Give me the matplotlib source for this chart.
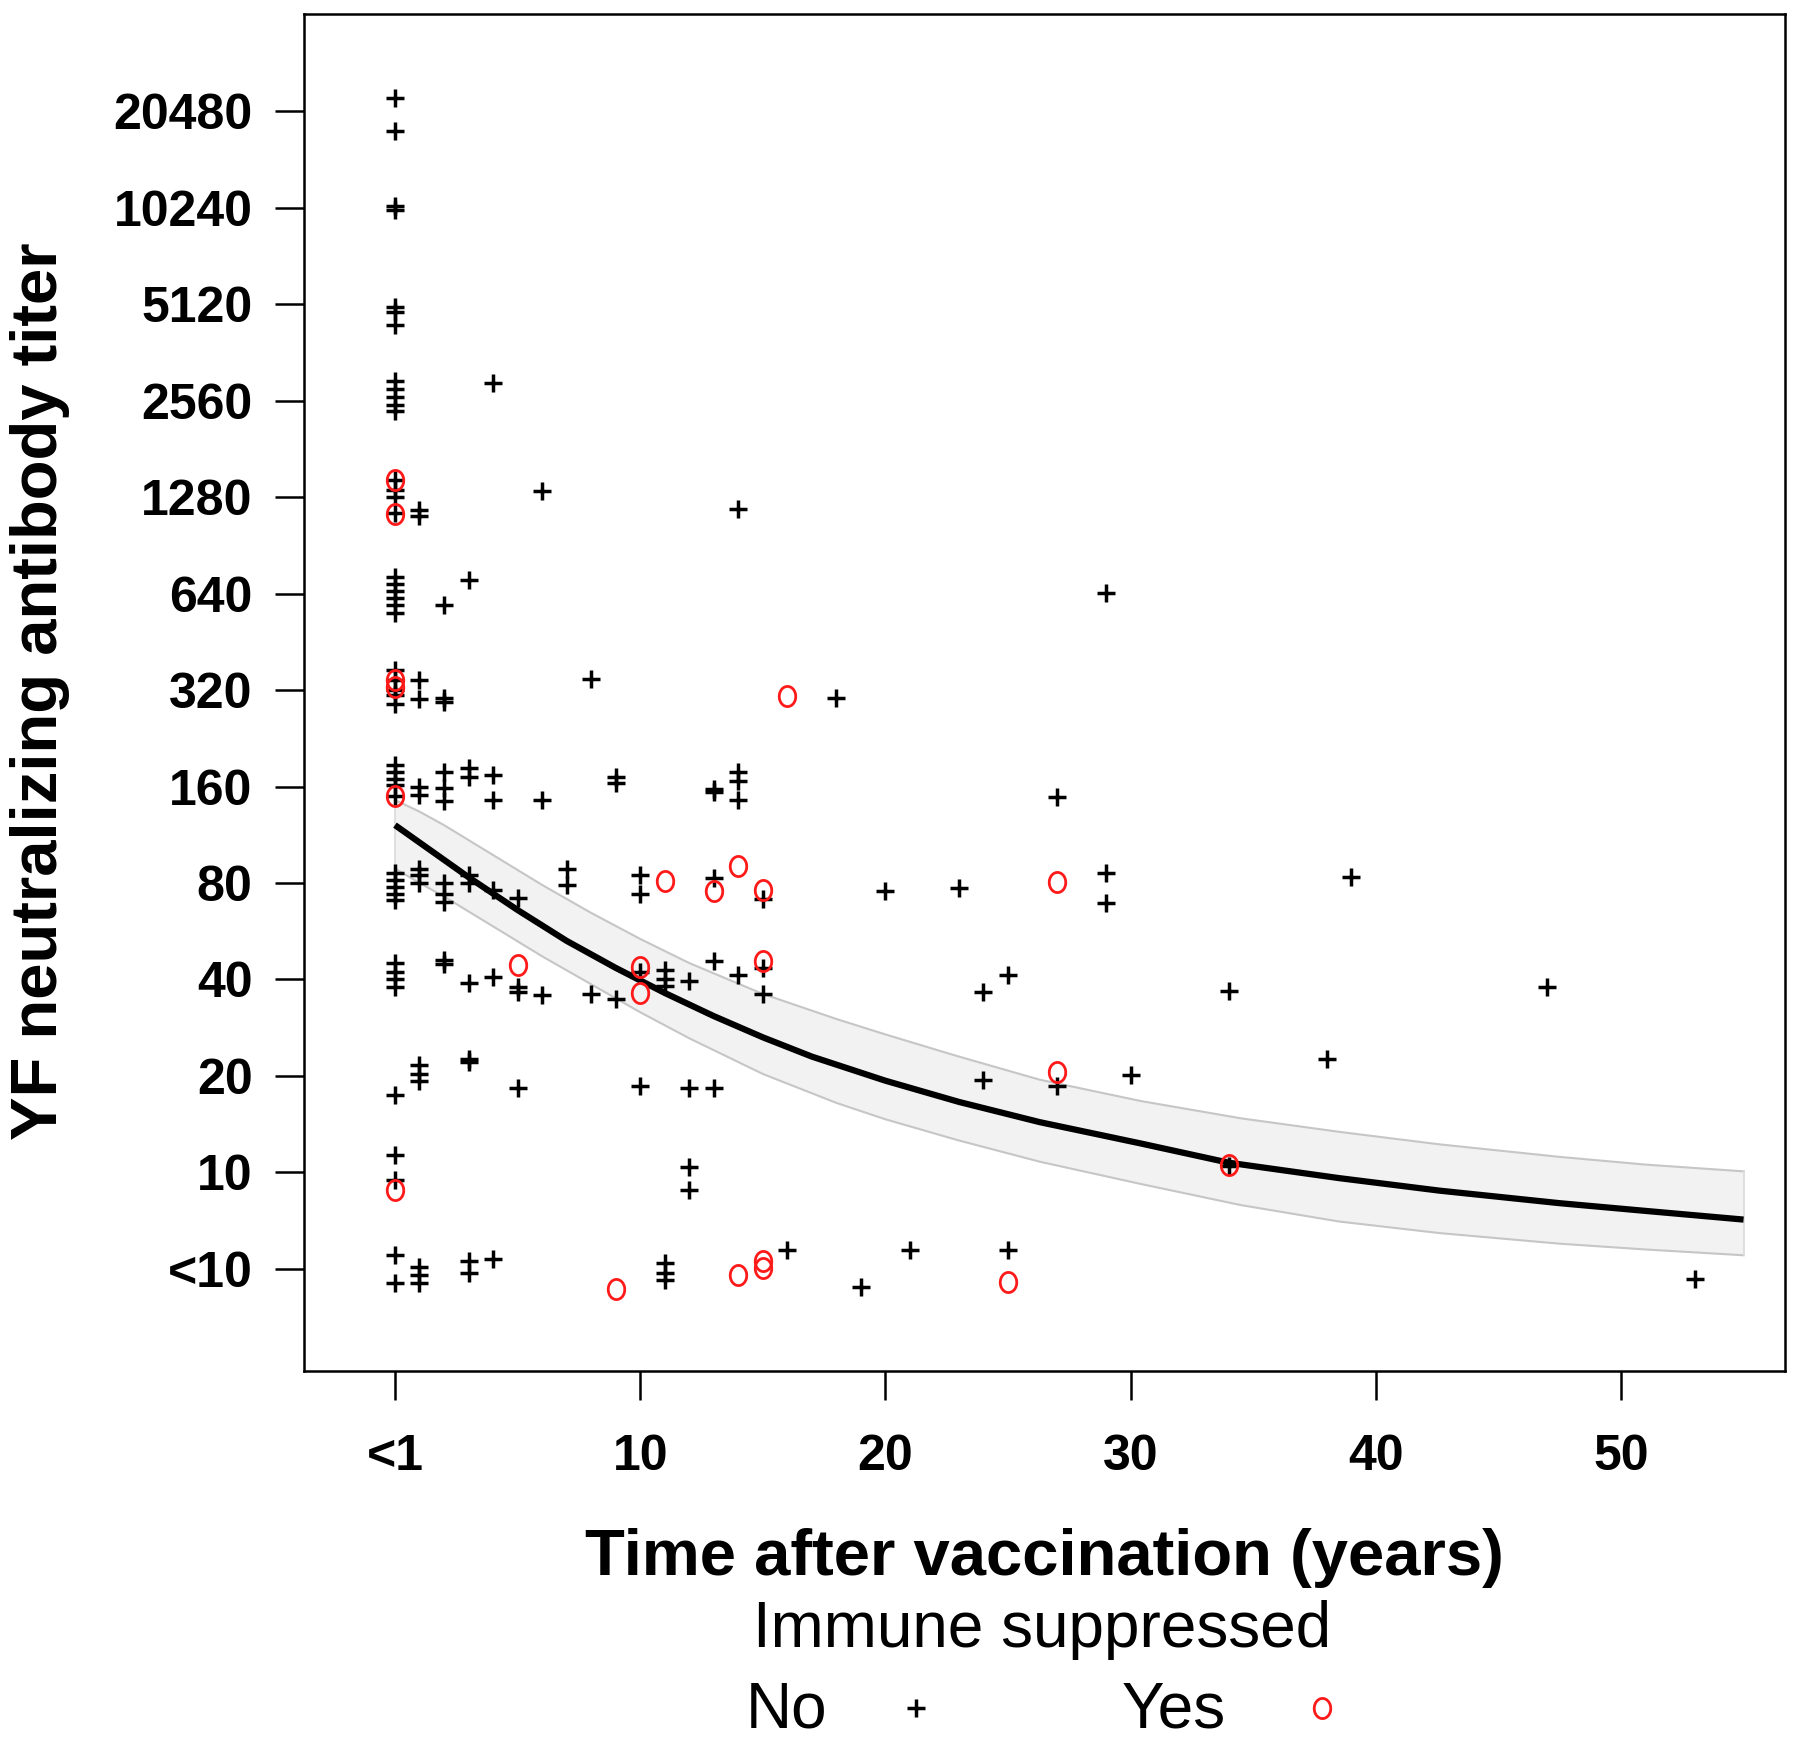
import matplotlib as mpl
import matplotlib.pyplot as plt
from matplotlib.path import Path
import numpy as np

mpl.rcParams.update({
    "font.family": ["Liberation Sans", "DejaVu Sans"],
    "font.size": 36,
})

# y is in doubling steps: -1 = "<10", 0 = 10, 1 = 20 ... 11 = 20480 (jittered as in the figure)
no_t = [0, 0,
        0, 0,
        0, 0, 0,
        0, 0, 0, 0, 0, 4,
        0, 0, 0, 0, 1, 1, 6, 14,
        0, 0, 0, 0, 0, 0, 3, 2, 29,
        0, 0, 0, 0, 0, 1, 1, 2, 2, 8, 18,
        0, 0, 0, 0, 0, 1, 1, 2, 2, 2, 3, 3, 4, 4, 6, 9, 9, 13, 13, 14, 14, 14, 27,
        0, 0, 0, 0, 0, 1, 1, 1, 2, 2, 2, 3, 3, 4, 5, 7, 7, 10, 10, 13, 15, 20, 23, 29, 29, 39,
        0, 0, 0, 0, 2, 2, 3, 4, 5, 5, 6, 8, 9, 10, 11, 11, 11, 12, 13, 14, 15, 15, 24, 25, 34, 47,
        0, 1, 1, 1, 3, 3, 5, 10, 12, 13, 24, 27, 30, 38,
        0, 0, 12, 12, 34,
        0, 0, 1, 1, 1, 3, 3, 4, 11, 11, 11, 16, 19, 21, 25, 53]
no_y = [11.14, 10.8,
        10.02, 9.98,
        8.97, 8.92, 8.79,
        8.2, 8.12, 8.04, 7.96, 7.89, 8.18,
        7.18, 7.07, 7.0, 6.84, 6.87, 6.8, 7.06, 6.88,
        6.17, 6.1, 6.03, 5.96, 5.88, 5.8, 6.14, 5.88, 6.01,
        5.21, 5.1, 5.0, 4.95, 4.86, 5.1, 4.91, 4.92, 4.88, 5.12, 4.92,
        4.22, 4.15, 4.08, 4.02, 3.9, 4.0, 3.91, 4.15, 3.98, 3.85, 4.19, 4.1, 4.12, 3.86, 3.86,
        4.1, 4.04, 3.97, 3.94, 4.15, 4.06, 3.86, 3.89,
        3.1, 3.03, 2.96, 2.89, 2.82, 3.15, 3.08, 3.0, 3.0, 2.89, 2.8, 3.08, 3.0, 2.93, 2.84,
        3.14, 2.98, 3.08, 2.89, 3.05, 2.83, 2.92, 2.95, 3.1, 2.79, 3.06,
        2.17, 2.08, 2.0, 1.92, 2.2, 2.16, 1.96, 2.02, 1.92, 1.87, 1.84, 1.85, 1.8, 2.08,
        2.1, 2.0, 1.93, 1.98, 2.19, 2.05, 2.12, 1.85, 1.87, 2.05, 1.88, 1.92,
        0.8, 1.11, 1.02, 0.95, 1.17, 1.14, 0.87, 0.9, 0.87, 0.87, 0.96, 0.9, 1.01, 1.17,
        0.18, -0.08, 0.06, -0.18, 0.07,
        -0.86, -1.15, -0.98, -1.06, -1.15, -0.92, -1.04, -0.9, -0.94, -1.04, -1.12,
        -0.81, -1.19, -0.81, -0.81, -1.11]

yes_t = [0, 0, 0, 0, 0, 0, 5, 9, 10, 10, 11, 13, 14, 14, 15, 15, 15, 15, 16, 25, 27, 27, 34]
yes_y = [7.18, 6.83, 5.1, 5.03, 3.9, -0.18, 2.15, -1.21, 2.13, 1.86, 3.02, 2.92, 3.18, -1.06,
         2.93, 2.19, -0.92, -0.99, 4.94, -1.14, 3.01, 1.04, 0.08]

# fitted curve and its band
fit_t = [0, 1, 2, 3, 4, 5, 6, 7, 8, 9, 10, 11, 12, 13, 14, 15, 17, 20, 23, 26.3, 30.4,
         34, 38.5, 42.6, 47.5, 51, 55]
fit_y = [3.60, 3.42, 3.24, 3.06, 2.89, 2.72, 2.56, 2.40, 2.26, 2.12, 1.99, 1.86, 1.74, 1.62,
         1.51, 1.40, 1.20, 0.95, 0.73, 0.52, 0.30, 0.10, -0.06, -0.19, -0.32, -0.40, -0.49]
band_t = [0, 1, 2, 4, 6, 8, 10, 12, 15, 18, 20, 23, 26.3, 30.4, 34.5, 38.5, 42.6, 47.5, 51, 55]
band_hi = [3.86, 3.74, 3.60, 3.29, 2.98, 2.69, 2.42, 2.17, 1.85, 1.59, 1.43, 1.20, 0.96,
           0.74, 0.56, 0.42, 0.29, 0.16, 0.08, 0.01]
band_lo = [3.15, 3.0, 2.86, 2.55, 2.24, 1.95, 1.66, 1.39, 1.02, 0.72, 0.55, 0.33, 0.11,
           -0.12, -0.34, -0.51, -0.63, -0.74, -0.80, -0.86]

x_ticks = [0, 10, 20, 30, 40, 50]
x_labels = ["<1", "10", "20", "30", "40", "50"]
y_ticks = list(range(-1, 12))
y_labels = ["<10", "10", "20", "40", "80", "160", "320", "640", "1280", "2560",
            "5120", "10240", "20480"]

# slightly tall open circle, as in the original
ang = np.linspace(0, 2*np.pi, 60)
oval = Path(np.column_stack([0.82*np.cos(ang), np.sin(ang)]))

red = "#ff1a1a"
fig = plt.figure(figsize=(18, 17.43), dpi=100)
ax = fig.add_axes([304/1800, 1 - 1371/1743, (1785-304)/1800, (1371-14)/1743])

ax.fill_between(band_t, band_lo, band_hi, color="#f2f2f2", zorder=1, lw=0)
ax.plot(band_t, band_hi, color="#c6c6c6", lw=1.5, zorder=2)
ax.plot(band_t, band_lo, color="#c6c6c6", lw=1.5, zorder=2)
ax.plot([band_t[0], band_t[0]], [band_lo[0], band_hi[0]], color="#dadada", lw=1.2, zorder=2)
ax.plot([band_t[-1], band_t[-1]], [band_lo[-1], band_hi[-1]], color="#dadada", lw=1.2, zorder=2)
ax.plot(fit_t, fit_y, color="black", lw=4.5, zorder=3, solid_capstyle="butt",
        solid_joinstyle="round")

ax.plot(no_t, no_y, ls="none", marker="+", ms=13.5, mew=2.5, color="black", zorder=4)
ax.plot(yes_t, yes_y, ls="none", marker=oval, ms=14.5, mew=2.0, mfc="none", mec=red, zorder=5)

ax.set_xlim(-3.71, 56.69)
ax.set_ylim(-2.06, 12.01)
ax.set_xticks(x_ticks)
ax.set_xticklabels(x_labels, fontweight="bold")
ax.set_yticks(y_ticks)
ax.set_yticklabels(y_labels, fontweight="bold")
ax.tick_params(axis="both", direction="out", length=21, width=1.8, labelsize=36)
ax.tick_params(axis="x", pad=24)
ax.tick_params(axis="y", pad=16)
for s in ax.spines.values():
    s.set_linewidth(1.8)

fig.text(1044/1800, 1 - 1558/1743, "Time after vaccination (years)", ha="center", va="center",
         fontsize=47, fontweight="bold")
fig.text(40/1800, 1 - 691/1743, "YF neutralizing antibody titer", ha="center", va="center",
         rotation=90, fontsize=47, fontweight="bold")

# legend under the x label
fig.text(1042/1800, 1 - 1630/1743, "Immune suppressed", ha="center", va="center", fontsize=46)
fig.text(746/1800, 1 - 1710/1743, "No", ha="left", va="center", fontsize=46)
fig.text(1122/1800, 1 - 1710/1743, "Yes", ha="left", va="center", fontsize=46)
fig.add_artist(mpl.lines.Line2D([916/1800], [1 - 1708/1743], marker="+", ms=13.5, mew=2.5,
                                color="black", transform=fig.transFigure))
fig.add_artist(mpl.lines.Line2D([1322/1800], [1 - 1708/1743], marker=oval, ms=14.5, mew=2.0,
                                mfc="none", mec=red, transform=fig.transFigure))

fig.savefig("out.png", dpi=100)
